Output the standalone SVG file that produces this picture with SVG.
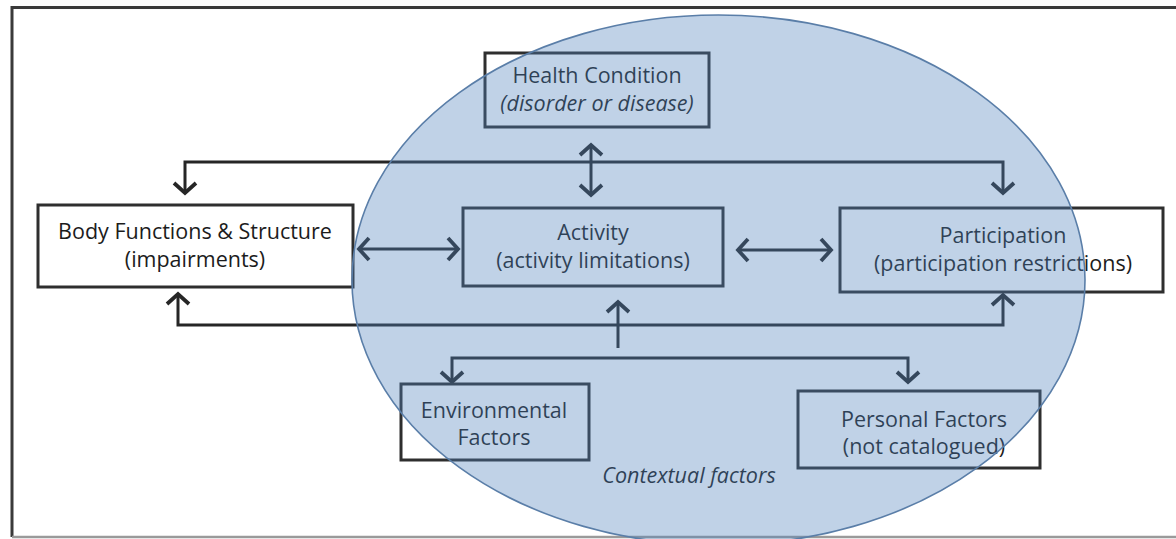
<svg xmlns="http://www.w3.org/2000/svg" width="1176" height="539" viewBox="0 0 1176 539">
  <style>
    .box { fill: #ffffff; stroke: #2e2e2e; stroke-width: 3; }
    .lbl { font-family: "Open Sans", "Liberation Sans", sans-serif; font-size: 21.5px; fill: #1c1c1c; text-anchor: middle; }
    .it { font-style: italic; }
    .wire { fill: none; stroke: #262626; stroke-width: 3; stroke-linejoin: miter; }
    .arr { marker-end: url(#chev); }
    .arr2 { marker-start: url(#chev); marker-end: url(#chev); }
  </style>
  <defs>
    <marker id="chev" viewBox="-14 -14 28 28" refX="0" refY="0" markerWidth="28" markerHeight="28" markerUnits="userSpaceOnUse" orient="auto-start-reverse">
      <path d="M-10,-11 L0,0 L-10,11" fill="none" stroke="#262626" stroke-width="3.8" stroke-linejoin="miter" stroke-linecap="butt"/>
    </marker>
  </defs>

  <rect width="1176" height="539" fill="#ffffff"/>

  <!-- outer frame -->
  <g id="frame" fill="none">
    <path d="M12,537 L12,7.5 L1176,7.5" stroke="#3a3a3a" stroke-width="3"/>
    <path d="M12,537 L1176,537" stroke="#9a9a9a" stroke-width="2.5"/>
  </g>

  <!-- connectors -->
  <g id="connectors">
    <!-- top loop: body functions <-> participation -->
    <path class="wire" d="M185,193 L185,162 L1003,162 L1003,193" marker-start="url(#chev)" marker-end="url(#chev)"/>
    <!-- bottom loop -->
    <path class="wire" d="M178,294 L178,325 L1003,325 L1003,295" marker-start="url(#chev)" marker-end="url(#chev)"/>
    <!-- health condition <-> activity -->
    <path class="wire arr2" d="M591,145 L591,195"/>
    <!-- body <-> activity -->
    <path class="wire arr2" d="M359,249 L458,249"/>
    <!-- activity <-> participation -->
    <path class="wire arr2" d="M738,250 L831,250"/>
    <!-- contextual factors up to activity -->
    <path class="wire arr" d="M618,348 L618,302"/>
    <!-- contextual split to environmental and personal -->
    <path class="wire" d="M452,382 L452,358 L908,358 L908,382" marker-start="url(#chev)" marker-end="url(#chev)"/>
  </g>

  <!-- nodes -->
  <g id="health">
    <rect class="box" x="485" y="53" width="224" height="74"/>
    <text class="lbl" x="597" y="83">Health Condition</text>
    <text class="lbl it" x="597" y="111">(disorder or disease)</text>
  </g>
  <g id="body">
    <rect class="box" x="38" y="205" width="315" height="82"/>
    <text class="lbl" x="195" y="239">Body Functions &amp; Structure</text>
    <text class="lbl" x="195" y="267">(impairments)</text>
  </g>
  <g id="activity">
    <rect class="box" x="463" y="208" width="260" height="78"/>
    <text class="lbl" x="593" y="240">Activity</text>
    <text class="lbl" x="593" y="268">(activity limitations)</text>
  </g>
  <g id="participation">
    <rect class="box" x="840" y="208" width="323" height="84"/>
    <text class="lbl" x="1003" y="243">Participation</text>
    <text class="lbl" x="1003" y="271">(participation restrictions)</text>
  </g>
  <g id="environmental">
    <rect class="box" x="401" y="384" width="188" height="76"/>
    <text class="lbl" x="494" y="418">Environmental</text>
    <text class="lbl" x="494" y="445">Factors</text>
  </g>
  <g id="personal">
    <rect class="box" x="798" y="391" width="242" height="77"/>
    <text class="lbl" x="924" y="427">Personal Factors</text>
    <text class="lbl" x="924" y="454">(not catalogued)</text>
  </g>

  <text class="lbl it" x="689" y="483">Contextual factors</text>

  <!-- translucent contextual-factors ellipse laid over the whole model -->
  <g id="contextual">
    <ellipse cx="718.5" cy="280" rx="366.5" ry="265" fill="#4f81bd" fill-opacity="0.36" stroke="#5a7ea8" stroke-width="1.6"/>
  </g>
</svg>
